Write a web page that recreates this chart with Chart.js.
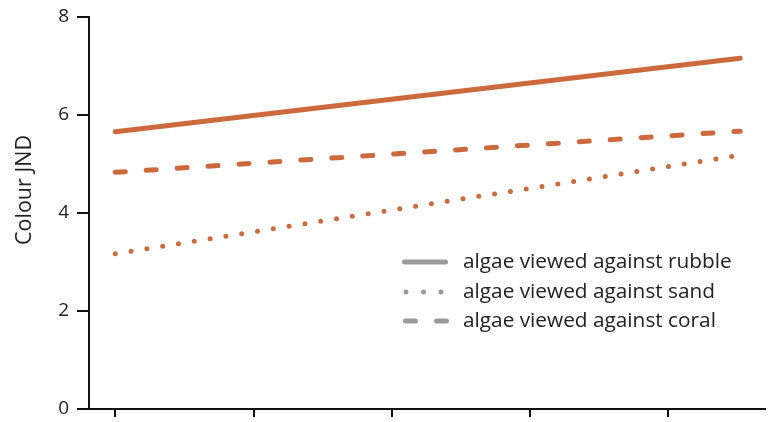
<!DOCTYPE html>
<html>
<head>
<meta charset="utf-8">
<script src="https://cdn.jsdelivr.net/npm/chart.js@4"></script>
<style>
  html, body { margin: 0; padding: 0; background: #fff; }
  #wrap { width: 777px; height: 422px; }
</style>
</head>
<body>
<div id="wrap"><canvas id="c" width="777" height="422"></canvas></div>
<script>
// Fitted colour JND trends, sampled at the two ends of the predictor range
const xPositions = [0, 4.52];
const rubbleJND = [5.66, 7.16];
const sandJND = [3.17, 5.18];
const coralJND = [4.83, 5.67];
const seriesLabels = ['algae viewed against rubble', 'algae viewed against sand', 'algae viewed against coral'];
const yAxisTitle = 'Colour JND';
const xTickValues = [0, 1, 2, 3, 4];
const yTickValues = [0, 2, 4, 6, 8];

const lineColour = '#cc6a3d';
const legendGrey = '#9a9a9a';
const textColour = '#222';
const fontFamily = '"Open Sans", sans-serif';

const toPoints = (vals) => vals.map((v, i) => ({ x: xPositions[i], y: v }));

// Legend drawn inside the plot, lower right; each swatch has its own stroke span
const legendRows = [
  { y: 262, from: 404.5, to: 445.5, dash: [] },
  { y: 292, from: 406, to: 441.5, dash: [0, 17.5] },
  { y: 321, from: 405.5, to: 446.5, dash: [10, 21] }
];
const insideLegend = {
  id: 'insideLegend',
  afterDraw(chart) {
    const ctx = chart.ctx;
    ctx.save();
    ctx.font = '20.8px ' + fontFamily;
    ctx.textBaseline = 'middle';
    chart.data.datasets.forEach((ds, i) => {
      const r = legendRows[i];
      ctx.strokeStyle = legendGrey;
      ctx.lineWidth = 5;
      ctx.lineCap = 'round';
      ctx.setLineDash(r.dash);
      ctx.beginPath();
      ctx.moveTo(r.from, r.y);
      ctx.lineTo(r.to, r.y);
      ctx.stroke();
      ctx.setLineDash([]);
      ctx.fillStyle = textColour;
      ctx.fillText(ds.label, 463, r.y);
    });
    ctx.restore();
  }
};

// Vertical axis title, set a little above the middle of the axis
const axisTitle = {
  id: 'axisTitle',
  afterDraw(chart) {
    const ctx = chart.ctx;
    ctx.save();
    ctx.translate(25, 190);
    ctx.rotate(-Math.PI / 2);
    ctx.font = '21.5px ' + fontFamily;
    ctx.fillStyle = textColour;
    ctx.textAlign = 'center';
    ctx.textBaseline = 'middle';
    ctx.fillText(yAxisTitle, 0, 0);
    ctx.restore();
  }
};

new Chart(document.getElementById('c'), {
  type: 'line',
  data: {
    datasets: [
      { label: seriesLabels[0], data: toPoints(rubbleJND), borderDash: [] },
      { label: seriesLabels[1], data: toPoints(sandJND), borderDash: [0, 16] },
      { label: seriesLabels[2], data: toPoints(coralJND), borderDash: [10, 21] }
    ].map(d => Object.assign({
      borderColor: lineColour,
      borderWidth: 5,
      borderCapStyle: 'round',
      pointRadius: 0,
      fill: false,
      tension: 0
    }, d))
  },
  options: {
    responsive: false,
    animation: false,
    devicePixelRatio: 1,
    layout: { padding: { top: 17, right: 12, bottom: 5, left: 0 } },
    plugins: { legend: { display: false }, tooltip: { enabled: false } },
    scales: {
      x: {
        type: 'linear',
        min: -0.19,
        max: 4.7,
        afterBuildTicks(scale) { scale.ticks = xTickValues.map(v => ({ value: v })); },
        grid: { display: true, drawOnChartArea: false, drawTicks: true, tickLength: 8, color: '#111', lineWidth: 2 },
        border: { display: true, color: '#111', width: 2 },
        ticks: { display: false }
      },
      y: {
        min: 0,
        max: 8,
        afterBuildTicks(scale) { scale.ticks = yTickValues.map(v => ({ value: v })); },
        afterFit(scale) { scale.width = 89; },
        grid: { display: true, drawOnChartArea: false, drawTicks: true, tickLength: 12, color: '#111', lineWidth: 2 },
        border: { display: true, color: '#111', width: 2 },
        ticks: { color: textColour, padding: 8, font: { size: 19, family: fontFamily, lineHeight: 0.5 } }
      }
    }
  },
  plugins: [insideLegend, axisTitle]
});
</script>
</body>
</html>
